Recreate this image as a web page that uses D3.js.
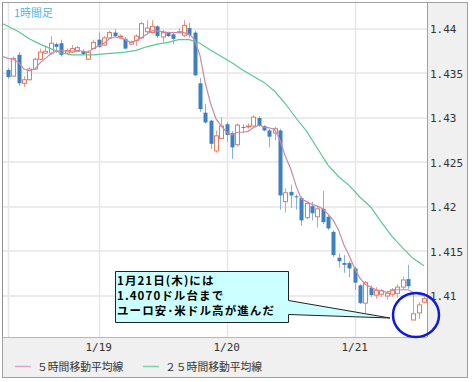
<!DOCTYPE html>
<html><head><meta charset="utf-8">
<script src="https://cdn.jsdelivr.net/npm/d3@7"></script>
<style>body{margin:0;background:#fff}svg{display:block}</style>
</head><body><svg id="c" width="472" height="382"></svg>
<script>
// ---- data (hourly EUR/USD candles, index 0 = 1/18 07:00) ----
const openP = [1.4354,1.4347,1.4371,1.4339,1.4343,1.4355,1.4366,1.4373,1.4373,1.4383,
1.4384,1.4373,1.4374,1.4375,1.4375,1.4366,1.4378,1.4388,1.4382,1.4390,
1.4396,1.4391,1.4389,1.4383,1.4387,1.4390,1.4397,1.4396,1.4403,1.4391,
1.4396,1.4394,1.4396,1.4393,1.4401,1.4396,1.4339,1.4306,1.4297,1.4263,
1.4277,1.4293,1.4283,1.4270,1.4290,1.4290,1.4291,1.4300,1.4291,1.4286,
1.4283,1.4286,1.4206,1.4217,1.4212,1.4210,1.4188,1.4201,1.4189,1.4198,
1.4189,1.4172,1.4143,1.4137,1.4137,1.4131,1.4112,1.4092,1.4109,1.4101,
1.4102,1.4100,1.4102,1.4103,1.4110,1.4119,1.4073,1.4081,1.4093];
const highP = [1.4356,1.4369,1.4374,1.4347,1.4357,1.4368,1.4378,1.4380,1.4392,1.4385,
1.4388,1.4378,1.4382,1.4381,1.4377,1.4376,1.4388,1.4396,1.4392,1.4398,
1.4400,1.4394,1.4391,1.4387,1.4394,1.4408,1.4410,1.4410,1.4404,1.4399,
1.4397,1.4396,1.4401,1.4410,1.4407,1.4398,1.4345,1.4316,1.4298,1.4286,
1.4301,1.4295,1.4285,1.4294,1.4293,1.4294,1.4303,1.4302,1.4292,1.4288,
1.4290,1.4288,1.4221,1.4225,1.4214,1.4212,1.4206,1.4206,1.4200,1.4218,
1.4191,1.4174,1.4148,1.4146,1.4139,1.4133,1.4113,1.4117,1.4112,1.4110,
1.4108,1.4106,1.4109,1.4113,1.4122,1.4135,1.4102,1.4093,1.4100];
const lowP = [1.4344,1.4346,1.4336,1.4335,1.4342,1.4354,1.4365,1.4372,1.4371,1.4373,
1.4369,1.4372,1.4373,1.4374,1.4371,1.4365,1.4377,1.4379,1.4381,1.4389,
1.4391,1.4390,1.4377,1.4382,1.4381,1.4389,1.4394,1.4395,1.4390,1.4385,
1.4391,1.4383,1.4395,1.4391,1.4390,1.4347,1.4307,1.4294,1.4265,1.4261,
1.4276,1.4273,1.4254,1.4268,1.4283,1.4288,1.4290,1.4290,1.4285,1.4267,
1.4275,1.4197,1.4194,1.4199,1.4197,1.4179,1.4186,1.4185,1.4177,1.4181,
1.4174,1.4144,1.4132,1.4126,1.4121,1.4107,1.4091,1.4081,1.4099,1.4097,
1.4099,1.4096,1.4099,1.4098,1.4107,1.4108,1.4073,1.4074,1.4092];
const closeP = [1.4346,1.4367,1.4339,1.4343,1.4355,1.4366,1.4374,1.4375,1.4384,1.4380,
1.4371,1.4376,1.4378,1.4379,1.4372,1.4374,1.4385,1.4380,1.4390,1.4396,
1.4392,1.4392,1.4378,1.4385,1.4392,1.4406,1.4401,1.4403,1.4392,1.4396,
1.4392,1.4389,1.4397,1.4404,1.4393,1.4348,1.4310,1.4295,1.4271,1.4280,
1.4291,1.4281,1.4267,1.4292,1.4289,1.4291,1.4301,1.4291,1.4286,1.4279,
1.4288,1.4213,1.4216,1.4213,1.4211,1.4185,1.4204,1.4193,1.4198,1.4183,
1.4176,1.4146,1.4139,1.4135,1.4131,1.4115,1.4092,1.4115,1.4101,1.4106,
1.4106,1.4103,1.4107,1.4110,1.4118,1.4111,1.4080,1.4090,1.4097];
// 5-hour moving average, indices -1..78
const ma5Start = -1;
const ma5 = [1.4369,1.4367,1.4366,1.4362,1.4355,1.4353,1.4355,1.4362,1.4367,1.4372,
1.4375,1.4376,1.4375,1.4375,1.4376,1.4375,1.4374,1.4378,1.4381,1.4384,
1.4389,1.4391,1.4390,1.4388,1.4385,1.4387,1.4390,1.4394,1.4398,1.4398,
1.4397,1.4396,1.4396,1.4396,1.4396,1.4394,1.4388,1.4370,1.4339,1.4316,
1.4299,1.4291,1.4284,1.4281,1.4284,1.4284,1.4285,1.4289,1.4292,1.4290,
1.4289,1.4287,1.4275,1.4257,1.4243,1.4224,1.4209,1.4206,1.4203,1.4201,
1.4198,1.4192,1.4185,1.4174,1.4157,1.4145,1.4131,1.4120,1.4113,1.4110,
1.4107,1.4106,1.4104,1.4106,1.4107,1.4107,1.4107,1.4104,1.4102,1.4100];
// 25-hour moving average, sampled
const ma25Idx = [-1,0,2,4,6,8,10,12,14,16,18,20,22,24,26,28,30,32,34,36,38,40,42,44,46,48,50,52,54,56,58,60,62,64,66,68,70,72,74,76,78];
const ma25 = [1.4406,1.4403,1.4397,1.4389,1.4383,1.4378,1.4373,1.4371,1.4371,1.4371,1.4372,1.4373,1.4374,1.4376,1.4380,1.4383,1.4385,1.4388,1.4388,1.4384,1.4376,1.4369,1.4362,1.4354,1.4347,1.4340,1.4330,1.4316,1.4300,1.4285,1.4266,1.4247,1.4234,1.4224,1.4211,1.4200,1.4183,1.4167,1.4154,1.4142,1.4134];
const yTicks = [1.44,1.435,1.43,1.425,1.42,1.415,1.41];
const yTickLabels = ["1.44","1.435","1.43","1.425","1.42","1.415","1.41"];
const dayIdx = [17,41,65];
const dayLabels = ["1/19","1/20","1/21"];
const extraGridIdx = [0];
const titleText = "1時間足";
const legendLabels = ["５時間移動平均線","２５時間移動平均線"];
const noteLines = ["1月21日(木)には","1.4070ドル台まで","ユーロ安･米ドル高が進んだ"];

// ---- drawing ----
const svg = d3.select("#c");
const L=3, R=427, T=3, B=337;
const x = d3.scaleLinear().domain([0,78]).range([8,424]);
const y = d3.scaleLinear().domain([1.41,1.44]).range([296,29]);
const mono = "'DejaVu Sans Mono', monospace";
const jp = "'Noto Sans CJK JP', sans-serif";

svg.append("rect").attr("x",2.5).attr("y",2.5).attr("width",465).attr("height",375)
  .attr("fill","#f0f0f0").attr("stroke","#a0a0a0");
svg.append("rect").attr("x",L).attr("y",T).attr("width",R-L).attr("height",B-T).attr("fill","#fff");
svg.append("defs").append("clipPath").attr("id","pc").append("rect")
  .attr("x",L).attr("y",T).attr("width",R-L).attr("height",B-T);

const grid = svg.append("g");
grid.selectAll("line.h").data(yTicks).join("line").attr("class","h")
  .attr("x1",L).attr("x2",R).attr("y1",d=>Math.round(y(d))).attr("y2",d=>Math.round(y(d)))
  .attr("stroke","#ebebeb").attr("stroke-width",2);
grid.selectAll("line.v").data(dayIdx.concat(extraGridIdx)).join("line").attr("class","v")
  .attr("x1",d=>Math.round(x(d))+0.5).attr("x2",d=>Math.round(x(d))+0.5).attr("y1",T).attr("y2",B)
  .attr("stroke","#e6e6e6").attr("stroke-width",1.5);

// borders
svg.append("line").attr("x1",R+0.5).attr("x2",R+0.5).attr("y1",T).attr("y2",B).attr("stroke","#a0a0a0");
svg.append("line").attr("x1",L).attr("x2",R).attr("y1",B+0.5).attr("y2",B+0.5).attr("stroke","#b8b8b8");
svg.append("line").attr("x1",2.5).attr("x2",2.5).attr("y1",T).attr("y2",B).attr("stroke","#909090");

const plot = svg.append("g").attr("clip-path","url(#pc)");
const candles = d3.range(openP.length).map(i=>({i,o:openP[i],h:highP[i],l:lowP[i],c:closeP[i]}));
const cg = plot.selectAll("g.c").data(candles).join("g").attr("class","c");
cg.append("line")
  .attr("x1",d=>Math.round(x(d.i))+0.5).attr("x2",d=>Math.round(x(d.i))+0.5)
  .attr("y1",d=>y(d.h)).attr("y2",d=>y(d.l))
  .attr("stroke",d=>d.c>=d.o?"#ec9a86":"#86b3dc").attr("stroke-width",1);
cg.append("rect")
  .attr("x",d=>Math.round(x(d.i))-1.5)
  .attr("width",4)
  .attr("y",d=>y(Math.max(d.o,d.c)))
  .attr("height",d=>Math.max(1,Math.abs(y(d.o)-y(d.c))))
  .attr("fill",d=>d.c>=d.o?"#fff":"#3d80c0")
  .attr("stroke",d=>d.c>=d.o?"#e57a62":"none").attr("stroke-width",1);

const line = d3.line().x(d=>x(d[0])).y(d=>y(d[1]));
plot.append("path").datum(ma25.map((v,k)=>[ma25Idx[k],v])).attr("d",line)
  .attr("fill","none").attr("stroke","#5cc890").attr("stroke-width",1.2);
plot.append("path").datum(ma5.map((v,k)=>[k+ma5Start,v])).attr("d",line)
  .attr("fill","none").attr("stroke","#cc88a8").attr("stroke-width",1.2);

// title
svg.append("text").attr("x",14).attr("y",17).text(titleText)
  .attr("font-family",jp).attr("font-size",11).attr("fill","#4cb8ea");

// y axis labels
svg.selectAll("text.yl").data(yTicks).join("text").attr("class","yl")
  .attr("x",430).attr("y",d=>y(d)+4).text((d,k)=>yTickLabels[k])
  .attr("font-family",mono).attr("font-size",11).attr("fill","#333");
// x axis labels
svg.selectAll("text.xl").data(dayIdx).join("text").attr("class","xl")
  .attr("x",d=>x(d)).attr("y",351).attr("text-anchor","middle").text((d,k)=>dayLabels[k])
  .attr("font-family",mono).attr("font-size",11).attr("fill","#333");

// legend
const legColors = ["#d8a4c0","#7fd0ac"];
const legX = [15,143];
legendLabels.forEach((t,k)=>{
  svg.append("line").attr("x1",legX[k]).attr("x2",legX[k]+16).attr("y1",366.5).attr("y2",366.5)
    .attr("stroke",legColors[k]).attr("stroke-width",1.5);
  svg.append("text").attr("x",legX[k]+22).attr("y",370.5).text(t)
    .attr("font-family",jp).attr("font-size",10.8).attr("fill","#333");
});

// callout
svg.append("path")
  .attr("d","M115.5,271.5 H288.5 V300.5 L390,318 L288.5,314.5 V322.5 H115.5 Z")
  .attr("fill","#ccffff").attr("stroke","#222").attr("stroke-width",1);
noteLines.forEach((t,k)=>{
  svg.append("text").attr("x",117).attr("y",285+k*15).text(t)
    .attr("font-family",jp).attr("font-size",11.5).attr("letter-spacing",1.1)
    .attr("font-weight","bold").attr("fill","#000");
});
svg.append("ellipse").attr("cx",416).attr("cy",315).attr("rx",23).attr("ry",22)
  .attr("fill","none").attr("stroke","#0a1ae0").attr("stroke-width",2.5);
</script></body></html>
